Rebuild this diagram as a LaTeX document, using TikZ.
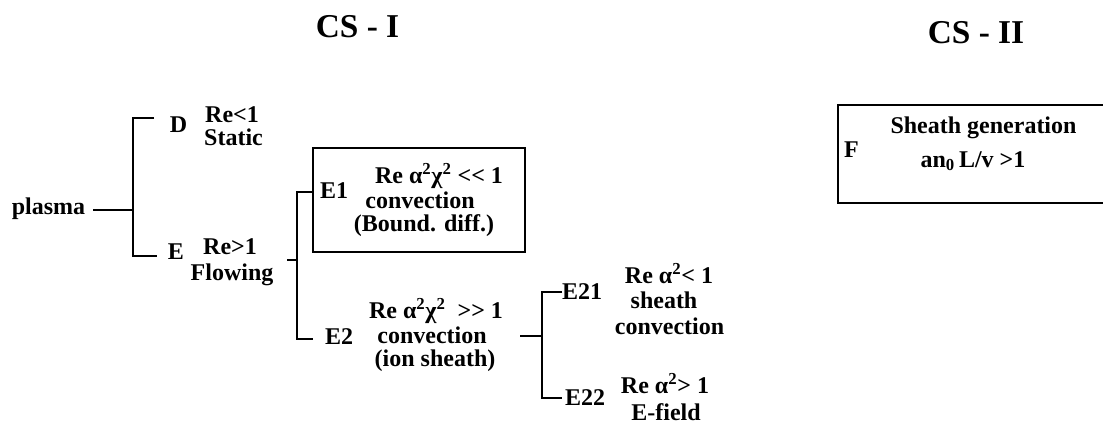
\documentclass[tikz,border=0pt]{standalone}
\usepackage{fontspec}
\setmainfont{Liberation Serif}
\begin{document}
\begin{tikzpicture}[x=0.75pt,y=-0.75pt,line width=1.3pt,
  txt/.style={font=\fontsize{18}{19}\selectfont\bfseries,inner sep=0pt,anchor=base},
  ttl/.style={font=\fontsize{25}{30}\selectfont\bfseries,inner sep=0pt,anchor=base}]
\useasboundingbox (0,0) rectangle (1103,426);
\clip (0,0) rectangle (1103,426);
\node[ttl] (cs1) at (357.5,37) {CS - I};
\node[ttl] (cs2) at (976,43) {CS - II};

\node[txt] (plasma) at (48.5,214) {plasma};
\node[txt] (d) at (178.5,132) {D};
\node[txt] (dre) at (232,122) {Re<1};
\node[txt] (dst) at (233.5,145) {Static};
\node[txt] (e) at (176,259) {E};
\node[txt] (ere) at (230,254) {Re>1};
\node[txt] (efl) at (232,280) {Flowing};

\node[txt] (e1) at (334,198) {E1};
\node[txt] (e1a) at (439,183) {Re α\textsuperscript{2}χ\textsuperscript{2} <{}< 1};
\node[txt] (e1b) at (420,208) {convection};
\node[txt] (e1c) at (424,231) {(Bound. diff.)};
\node[txt] (e2) at (339,344) {E2};
\node[txt] (e2a) at (436,318) {Re α\textsuperscript{2}χ\textsuperscript{2}\ \ >{}> 1};
\node[txt] (e2b) at (432,343) {convection};
\node[txt] (e2c) at (435,366) {(ion sheath)};

\node[txt] (e21) at (582,299) {E21};
\node[txt] (e21a) at (669,283) {Re α\textsuperscript{2}< 1};
\node[txt] (e21b) at (664,308) {sheath};
\node[txt] (e21c) at (669.5,334) {convection};
\node[txt] (e22) at (585,405) {E22};
\node[txt] (e22a) at (665,393) {Re α\textsuperscript{2}> 1};
\node[txt] (e22b) at (666,420) {E-field};

\node[txt] (f) at (851.5,157) {F};
\node[txt] (fa) at (983.5,133) {Sheath generation};
\node[txt] (fb) at (973,167) {an\textsubscript{0}\,L/v >1};

\coordinate (p0) at (93,210);
\coordinate (f0) at (133,210);
\coordinate (dend) at (154,118);
\coordinate (eend) at (157,256);
\draw (p0) -- (f0);
\draw (dend) -| (f0) |- (eend);

\coordinate (q0) at (287,260);
\coordinate (f1) at (297,260);
\coordinate (e1in) at (313,192);
\coordinate (e2end) at (313,339);
\draw (q0) -- (f1);
\draw (e1in) -| (f1) |- (e2end);
\draw (313,148) rectangle (525,252);

\coordinate (r0) at (520,336);
\coordinate (f2) at (542,336);
\coordinate (e21in) at (562,292);
\coordinate (e22end) at (562,398);
\draw (r0) -- (f2);
\draw (e21in) -| (f2) |- (e22end);

\draw (838,105) rectangle (1110,203);
\end{tikzpicture}
\end{document}
